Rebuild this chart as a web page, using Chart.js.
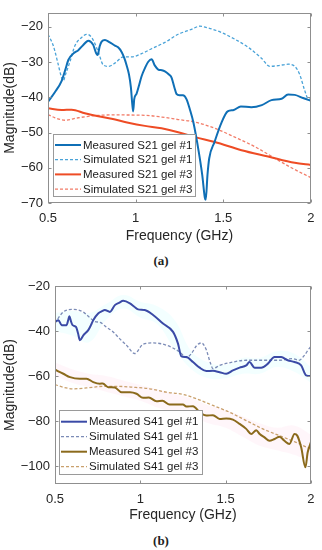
<!DOCTYPE html>
<html><head><meta charset="utf-8">
<script src="https://cdn.jsdelivr.net/npm/chart.js@4.4.1/dist/chart.umd.min.js"></script>
<style>
html,body{margin:0;padding:0;background:#fff;width:322px;height:550px;overflow:hidden;}
.wrap{position:absolute;left:0;width:322px;}
.cap{position:absolute;left:0;width:322px;text-align:center;font-family:"Liberation Serif","DejaVu Serif",serif;font-weight:bold;font-size:13px;color:#222;}
</style></head><body>
<div class="wrap" style="top:0;height:250px;"><canvas id="ca" width="322" height="250"></canvas></div>
<div class="cap" style="top:253px;">(a)</div>
<div class="wrap" style="top:270px;height:260px;"><canvas id="cb" width="322" height="260"></canvas></div>
<div class="cap" style="top:533px;">(b)</div>
<script>
// ---------- ticks and legend labels ----------
const xTicks = [0.5, 1, 1.5, 2];
const yTicksA = [-70, -60, -50, -40, -30, -20];
const yTicksB = [-100, -80, -60, -40, -20];
const legendA = ["Measured S21 gel #1", "Simulated S21 gel #1", "Measured S21 gel #3", "Simulated S21 gel #3"];
const legendB = ["Measured S41 gel #1", "Simulated S41 gel #1", "Measured S41 gel #3", "Simulated S41 gel #3"];

// ---------- data: chart (a) S21 ----------
const fA1m = [0.50,0.54,0.578,0.60,0.616,0.644,0.673,0.70,0.73,0.758,0.775,0.783,0.795,0.806,0.825,0.85,0.882,0.90,0.92,0.935,0.948,0.962,0.973,0.981,0.986,0.992,1.005,1.02,1.034,1.055,1.072,1.091,1.11,1.129,1.15,1.167,1.19,1.205,1.22,1.233,1.25,1.27,1.29,1.31,1.33,1.36,1.38,1.395,1.40,1.41,1.42,1.45,1.49,1.525,1.56,1.60,1.66,1.72,1.775,1.833,1.87,1.908,1.955,2.0];
const vA1m = [-41.3,-38.5,-35.3,-32,-29.4,-27.6,-26.6,-25.2,-23.9,-25.1,-27.5,-28.0,-25.5,-24.2,-23.7,-24.3,-25.3,-25.8,-27.1,-28.8,-30.8,-33.5,-37.2,-42,-44.0,-40.5,-39,-36.5,-34,-31.5,-29.9,-29.2,-31,-32.1,-32.3,-32.6,-33.5,-34.4,-37,-39,-39.4,-39.4,-40.5,-43.5,-47.2,-55.4,-62,-68.5,-69.1,-62,-57.3,-52.7,-47.2,-44,-43.6,-42.6,-42.8,-42.2,-40.8,-40.4,-39.2,-39.3,-40.2,-41];
const fA1s = [0.50,0.53,0.559,0.575,0.587,0.60,0.625,0.654,0.692,0.72,0.749,0.787,0.815,0.844,0.882,0.93,0.977,1.034,1.091,1.167,1.243,1.319,1.366,1.414,1.49,1.566,1.642,1.718,1.765,1.813,1.87,1.908,1.936,1.965,1.984,2.0];
const vA1s = [-22.1,-25.3,-30.8,-34,-35.3,-33.5,-29.9,-25.3,-23.0,-22.1,-23.0,-27.1,-30.8,-31.2,-30.3,-28.5,-28.5,-27.6,-26.2,-24.4,-22.1,-20.7,-19.8,-20.3,-21.6,-23.5,-25.8,-28.9,-31.2,-31.0,-30.6,-31.2,-33.5,-38.1,-40.4,-40.5];
const fA3m = [0.50,0.578,0.635,0.71,0.787,0.863,0.958,1.053,1.148,1.243,1.338,1.452,1.604,1.756,1.908,2.0];
const vA3m = [-43.1,-43.6,-43.5,-44.5,-45.4,-46.1,-47.2,-48.1,-48.8,-49.9,-51.3,-52.7,-55,-56.8,-58.6,-59.2];
const fA3s = [0.50,0.54,0.597,0.673,0.768,0.863,1.053,1.15,1.243,1.338,1.452,1.566,1.68,1.794,1.889,2.0];
const vA3s = [-44.9,-45.8,-46.5,-45.8,-45.2,-45.0,-45.1,-45.6,-46.3,-47,-48.8,-51.3,-54,-57.3,-60,-62.8];

// ---------- data: chart (b) S41 ----------
const fB1m = [0.50,0.52,0.539,0.568,0.578,0.584,0.595,0.603,0.623,0.635,0.646,0.666,0.695,0.71,0.724,0.753,0.775,0.792,0.822,0.851,0.875,0.90,0.939,0.965,0.987,1.026,1.075,1.133,1.192,1.221,1.241,1.27,1.309,1.348,1.387,1.426,1.465,1.504,1.543,1.582,1.621,1.64,1.67,1.709,1.748,1.787,1.826,1.864,1.904,1.943,1.972,2.0];
const vB1m = [-35.9,-35.2,-37.4,-37.4,-35,-33.4,-36,-37.4,-38.2,-41,-44.1,-41.9,-39.6,-37.5,-35.2,-32.2,-31.2,-30.7,-31.5,-28.5,-27.5,-26.6,-27.7,-29.2,-30.4,-30.7,-32.9,-36.7,-40.4,-45.6,-51.3,-51.6,-53.8,-56.3,-57.8,-57.7,-58.3,-59,-57.5,-56.3,-55.3,-53.8,-56.3,-56.3,-54.5,-51.6,-51.6,-53,-53.8,-55.3,-59.7,-60];
const fB1s = [0.50,0.549,0.607,0.666,0.70,0.735,0.765,0.80,0.841,0.88,0.919,0.968,1.016,1.075,1.153,1.231,1.27,1.30,1.33,1.358,1.385,1.41,1.426,1.465,1.543,1.621,1.72,1.816,1.894,1.93,1.962,1.99,2.0];
const vB1s = [-36.5,-31.5,-30.4,-31.6,-33.8,-35.8,-36.2,-38.2,-40.4,-43.5,-46.3,-50,-45.9,-45.3,-46.3,-49.3,-51.8,-50,-46.5,-45.3,-48,-54,-56.7,-55.3,-53.8,-53,-53,-53,-52.3,-53,-50.8,-47.8,-47];
const fB3m = [0.50,0.549,0.588,0.646,0.685,0.724,0.763,0.78,0.812,0.85,0.89,0.94,0.978,1.016,1.05,1.095,1.13,1.172,1.21,1.25,1.27,1.309,1.348,1.387,1.426,1.465,1.504,1.543,1.582,1.621,1.65,1.68,1.70,1.728,1.757,1.787,1.816,1.845,1.874,1.904,1.92,1.943,1.968,1.981,2.0];
const vB3m = [-57.2,-59,-60.5,-61.2,-61.2,-62.7,-63.4,-63.3,-65,-65.1,-67.2,-67.2,-67.9,-69.7,-69.6,-71.2,-71,-72.7,-72.7,-72.7,-73.6,-73.4,-76.1,-77.6,-77.4,-79.1,-78.9,-79.4,-81.3,-83.5,-85.8,-84.1,-85.8,-87.3,-88.8,-88,-87,-88.8,-90.2,-85.8,-86.5,-91.7,-100.6,-94,-89.5];
const fB3s = [0.50,0.549,0.607,0.685,0.783,0.86,0.958,1.056,1.153,1.25,1.329,1.426,1.523,1.621,1.718,1.816,1.913,2.0];
const vB3s = [-63.8,-65,-65.7,-65.3,-64.6,-64.6,-65,-65.7,-67.2,-68.2,-70.1,-73.1,-76.1,-79.8,-83.5,-86.5,-89.5,-92.5];

// faint shaded bands seen around the measured S41 curves
const fBand = [0.5,0.6,0.7,0.8,0.9,1.0,1.1,1.2,1.3,1.4,1.5,1.6,1.7,1.8,1.9,2.0];
const band1Hi = [-32,-31,-32,-28,-24,-27,-29,-35,-49,-54,-55,-52,-52,-49,-50,-56];
const band1Lo = [-40,-42,-45,-35,-30,-34,-37,-48,-57,-61,-61,-59,-59,-56,-58,-63];
const band3Hi = [-54,-57,-59,-60,-62,-64,-66,-68,-70,-73,-75,-78,-81,-83,-82,-86];
const band3Lo = [-60,-63,-65,-67,-69,-71,-74,-76,-78,-81,-83,-87,-91,-93,-95,-98];

const FONT = '"Liberation Sans", Arial, Helvetica, sans-serif';
const pts = (f, v) => f.map((x, i) => ({x: x, y: v[i]}));
const minus = v => String(v).replace('-', '\u2212');

function ds(label, f, v, color, dashed) {
  return {
    label: label, data: pts(f, v), borderColor: color, backgroundColor: color,
    borderWidth: dashed ? 1.3 : 2, borderDash: dashed ? [3, 2] : [],
    pointRadius: 0, cubicInterpolationMode: 'monotone', fill: false, order: 1
  };
}
function bandDs(f, hi, lo, color) {
  return [
    {band: true, label: 'bhi', data: pts(f, hi), borderWidth: 0, borderColor: 'rgba(0,0,0,0)',
     pointRadius: 0, tension: 0.4, fill: '+1', backgroundColor: color, order: 5},
    {band: true, label: 'blo', data: pts(f, lo), borderWidth: 0, borderColor: 'rgba(0,0,0,0)',
     pointRadius: 0, tension: 0.4, fill: false, order: 5}
  ];
}

const boxPlugin = {
  id: 'boxTicks',
  afterDatasetsDraw(chart) {
    const {ctx, chartArea: a, scales: {x, y}} = chart;
    ctx.save();
    ctx.strokeStyle = '#8f8f8f';
    ctx.lineWidth = 1;
    const L = Math.round(a.left) + 0.5, R = Math.round(a.right) - 0.5;
    const T = Math.round(a.top) + 0.5, B = Math.round(a.bottom) - 0.5;
    ctx.strokeRect(L, T, R - L, B - T);
    ctx.beginPath();
    x.ticks.forEach(t => {
      const px = Math.round(x.getPixelForValue(t.value)) + 0.5;
      ctx.moveTo(px, B); ctx.lineTo(px, B - 3);
      ctx.moveTo(px, T); ctx.lineTo(px, T + 3);
    });
    y.ticks.forEach(t => {
      const py = Math.round(y.getPixelForValue(t.value)) + 0.5;
      ctx.moveTo(L, py); ctx.lineTo(L + 3, py);
      ctx.moveTo(R, py); ctx.lineTo(R - 3, py);
    });
    ctx.stroke();
    ctx.restore();
  }
};

const legendPlugin = {
  id: 'inLegend',
  afterDraw(chart, args, o) {
    const {ctx} = chart;
    ctx.save();
    ctx.fillStyle = '#fff';
    ctx.fillRect(o.x, o.y, o.w, o.h);
    ctx.strokeStyle = '#9a9a9a';
    ctx.lineWidth = 1;
    ctx.strokeRect(o.x + 0.5, o.y + 0.5, o.w, o.h);
    ctx.font = '11.5px ' + FONT;
    ctx.textBaseline = 'middle';
    chart.data.datasets.filter(d => !d.band).forEach((d, i) => {
      const cy = o.y + o.first + i * o.step;
      ctx.strokeStyle = d.borderColor;
      ctx.lineWidth = d.borderWidth;
      ctx.setLineDash(d.borderDash);
      ctx.beginPath();
      ctx.moveTo(o.x + 2, cy); ctx.lineTo(o.x + 28, cy);
      ctx.stroke();
      ctx.setLineDash([]);
      ctx.fillStyle = '#1a1a1a';
      ctx.fillText(d.label, o.x + 30, cy + 0.5);
    });
    ctx.restore();
  }
};

function makeChart(id, cfg) {
  return new Chart(document.getElementById(id), {
    type: 'line',
    data: {datasets: cfg.datasets},
    plugins: [boxPlugin, legendPlugin],
    options: {
      responsive: false, animation: false, devicePixelRatio: 1,
      layout: {padding: {top: cfg.padTop, right: cfg.padRight, left: 0, bottom: 0}},
      plugins: {legend: {display: false}, tooltip: {enabled: false}, filler: {propagate: false}, inLegend: cfg.legend},
      scales: {
        x: {
          type: 'linear', min: 0.5, max: 2,
          afterBuildTicks: s => { s.ticks = xTicks.map(v => ({value: v})); },
          afterFit: s => { s.height = cfg.xH; },
          grid: {display: false, drawTicks: false}, border: {display: false},
          ticks: {color: '#262626', padding: cfg.xTickPad, font: {family: FONT, size: 13}, maxRotation: 0,
                  callback: v => String(v)},
          title: {display: true, text: 'Frequency (GHz)', color: '#262626',
                  font: {family: FONT, size: 14}, padding: {top: 0, bottom: cfg.xTitlePad}}
        },
        y: {
          type: 'linear', min: cfg.yMin, max: cfg.yMax,
          afterBuildTicks: s => { s.ticks = cfg.yTicks.map(v => ({value: v})); },
          afterFit: s => { s.width = cfg.yW; },
          grid: {display: false, drawTicks: false}, border: {display: false},
          ticks: {color: '#262626', padding: 5, font: {family: FONT, size: 13}, callback: v => minus(v)},
          title: {display: true, text: 'Magnitude(dB)', color: '#262626',
                  font: {family: FONT, size: 14}, padding: {top: 2, bottom: 0}}
        }
      }
    }
  });
}

makeChart('ca', {
  datasets: [
    ds(legendA[0], fA1m, vA1m, '#0f6fb6', false),
    ds(legendA[1], fA1s, vA1s, '#4aa3d8', true),
    ds(legendA[2], fA3m, vA3m, '#ee4c25', false),
    ds(legendA[3], fA3s, vA3s, '#f27c68', true)
  ],
  padTop: 6, padRight: 11, xH: 47, yW: 48, xTickPad: 7.5, xTitlePad: 5.5,
  yMin: -70, yMax: -16, yTicks: yTicksA,
  legend: {x: 53, y: 134, w: 142, h: 62, first: 11, step: 14.7}
});

makeChart('cb', {
  datasets: [
    ds(legendB[0], fB1m, vB1m, '#3a4aa6', false),
    ds(legendB[1], fB1s, vB1s, '#7b8bb6', true),
    ds(legendB[2], fB3m, vB3m, '#8b6a1c', false),
    ds(legendB[3], fB3s, vB3s, '#c9a06c', true),
    ...bandDs(fBand, band1Hi, band1Lo, 'rgba(225,255,255,0.4)'),
    ...bandDs(fBand, band3Hi, band3Lo, 'rgba(255,232,242,0.4)')
  ],
  padTop: 16, padRight: 10.5, xH: 46, yW: 55, xTickPad: 7.5, xTitlePad: 6.5,
  yMin: -108, yMax: -20, yTicks: yTicksB,
  legend: {x: 59, y: 140, w: 143, h: 64, first: 11.7, step: 15}
});
</script>
</body></html>
